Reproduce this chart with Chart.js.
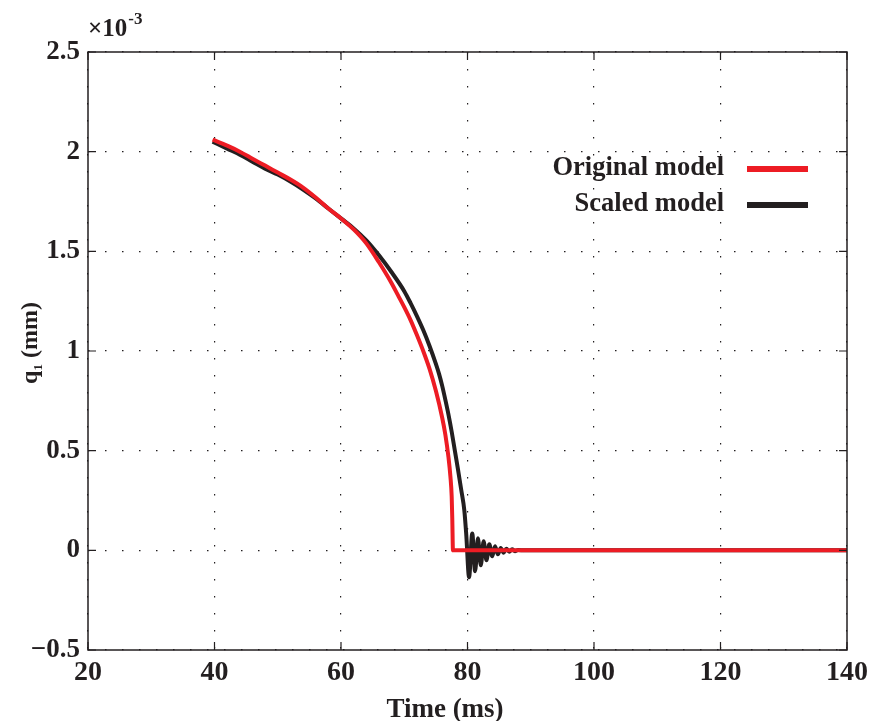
<!DOCTYPE html>
<html>
<head>
<meta charset="utf-8">
<script src="https://cdn.jsdelivr.net/npm/chart.js@4.4.1/dist/chart.umd.min.js"></script>
<style>
  html, body { margin: 0; padding: 0; background: #fff; }
  #wrap { width: 870px; height: 721px; }
</style>
</head>
<body>
<div id="wrap"><canvas id="qChart" width="870" height="721"></canvas></div>
<script>
// values in units of 1e-3 mm (the axis shows x10^-3)
const timeOriginal = [39.7, 42, 44, 46, 48, 50, 52, 54, 56, 58, 60, 62, 64, 66, 68, 69, 70, 71, 72, 73, 74, 75, 76, 76.5, 77, 77.3, 77.5, 77.6, 77.7, 140];
const qOriginal = [2.06, 2.03, 2.0, 1.965, 1.93, 1.895, 1.86, 1.82, 1.77, 1.715, 1.665, 1.61, 1.54, 1.445, 1.34, 1.28, 1.22, 1.155, 1.08, 1.0, 0.91, 0.8, 0.665, 0.58, 0.465, 0.37, 0.27, 0.15, 0.0, 0.0];

const timeScaled = [39.7, 42, 44, 46, 48, 50, 52, 54, 56, 58, 60, 62, 64, 66, 68, 70, 71, 72, 73, 74, 75, 75.5, 76, 76.5, 77, 77.5, 78, 78.5, 79, 79.5, 79.8, 80.25, 80.75, 81.2, 81.65, 82.1, 82.55, 83.0, 83.45, 83.9, 84.35, 84.8, 85.25, 85.7, 86.15, 86.6, 87.05, 87.5, 88, 89, 140];
const qScaled = [2.05, 2.015, 1.985, 1.95, 1.915, 1.885, 1.85, 1.81, 1.765, 1.715, 1.665, 1.615, 1.555, 1.48, 1.395, 1.3, 1.24, 1.175, 1.105, 1.025, 0.935, 0.885, 0.825, 0.755, 0.68, 0.595, 0.5, 0.405, 0.305, 0.2, 0.08, -0.135, 0.085, -0.105, 0.06, -0.075, 0.045, -0.05, 0.03, -0.03, 0.02, -0.02, 0.012, -0.012, 0.008, -0.007, 0.005, -0.004, 0.002, 0.0, 0.0];

const xTickLabels = ['20', '40', '60', '80', '100', '120', '140'];
const yTickLabels = ['\u22120.5', '0', '0.5', '1', '1.5', '2', '2.5'];
const seriesNames = ['Original model', 'Scaled model'];
const seriesColors = ['#ed1c24', '#231f20'];

const serif = '"Liberation Serif", "Times New Roman", serif';
const ink = '#231f20';

function toPoints(xs, ys) {
  return xs.map((t, i) => ({ x: t, y: ys[i] }));
}

// matlab style box, inward ticks, axis titles and legend
const matlabFrame = {
  id: 'matlabFrame',
  afterDraw(chart) {
    const { ctx, chartArea: a, scales } = chart;
    const x = scales.x, y = scales.y;
    ctx.save();
    ctx.strokeStyle = ink;
    ctx.lineWidth = 1.5;
    ctx.strokeRect(a.left, a.top, a.right - a.left, a.bottom - a.top);

    const tl = 8;
    ctx.lineWidth = 1.2;
    ctx.beginPath();
    x.ticks.forEach(t => {
      const px = x.getPixelForValue(t.value);
      ctx.moveTo(px, a.bottom); ctx.lineTo(px, a.bottom - tl);
      ctx.moveTo(px, a.top); ctx.lineTo(px, a.top + tl);
    });
    y.ticks.forEach(t => {
      const py = y.getPixelForValue(t.value);
      ctx.moveTo(a.left, py); ctx.lineTo(a.left + tl, py);
      ctx.moveTo(a.right, py); ctx.lineTo(a.right - tl, py);
    });
    ctx.stroke();

    ctx.fillStyle = ink;
    // x10^-3
    ctx.textBaseline = 'alphabetic';
    ctx.textAlign = 'left';
    ctx.font = 'bold 25px ' + serif;
    ctx.fillText('\u00d710', a.left, 36);
    const w10 = ctx.measureText('\u00d710').width;
    ctx.font = 'bold 17px ' + serif;
    ctx.fillText('-3', a.left + w10 + 1, 24);

    // x title
    ctx.textAlign = 'center';
    ctx.font = 'bold 27px ' + serif;
    ctx.fillText('Time (ms)', 445, 717);

    // y title with subscript
    ctx.save();
    ctx.translate(37, 343);
    ctx.rotate(-Math.PI / 2);
    ctx.textAlign = 'left';
    ctx.font = 'bold 24px ' + serif;
    const wq = ctx.measureText('q').width;
    ctx.font = 'bold 13px ' + serif;
    const w1 = ctx.measureText('1').width;
    ctx.font = 'bold 24px ' + serif;
    const wr = ctx.measureText(' (mm)').width;
    let cx = -(wq + w1 + wr) / 2;
    ctx.fillText('q', cx, 0);
    ctx.font = 'bold 13px ' + serif;
    ctx.fillText('1', cx + wq, 5);
    ctx.font = 'bold 24px ' + serif;
    ctx.fillText(' (mm)', cx + wq + w1, 0);
    ctx.restore();

    // legend
    ctx.font = 'bold 26.5px ' + serif;
    ctx.textAlign = 'right';
    ctx.textBaseline = 'middle';
    chart.data.datasets.forEach((ds, i) => {
      const ly = 168 + i * 36;
      ctx.fillStyle = ink;
      ctx.fillText(ds.label, 724, ly);
      ctx.strokeStyle = ds.borderColor;
      ctx.lineWidth = 6;
      ctx.beginPath();
      ctx.moveTo(747, ly + 1);
      ctx.lineTo(808, ly + 1);
      ctx.stroke();
    });
    ctx.restore();
  }
};

const chart = new Chart(document.getElementById('qChart').getContext('2d'), {
  type: 'line',
  data: {
    datasets: [
      {
        label: seriesNames[0],
        data: toPoints(timeOriginal, qOriginal),
        borderColor: seriesColors[0],
        borderWidth: 4,
        pointRadius: 0,
        cubicInterpolationMode: 'monotone',
        fill: false
      },
      {
        label: seriesNames[1],
        data: toPoints(timeScaled, qScaled),
        borderColor: seriesColors[1],
        borderWidth: 4,
        pointRadius: 0,
        cubicInterpolationMode: 'monotone',
        fill: false
      }
    ]
  },
  options: {
    responsive: false,
    animation: false,
    layout: { padding: { left: 0, top: 52, right: 23, bottom: 0 } },
    plugins: { legend: { display: false }, tooltip: { enabled: false } },
    scales: {
      x: {
        type: 'linear',
        min: 20,
        max: 140,
        afterFit(s) { s.height = 71; s.paddingLeft = 0; s.paddingRight = 0; },
        ticks: {
          stepSize: 20,
          padding: 6,
          color: ink,
          font: { family: serif, size: 28, weight: 'bold' },
          callback: (v, i) => xTickLabels[i]
        },
        grid: { color: ink, lineWidth: 1.2, drawTicks: false },
        border: { display: false, dash: [1.5, 15.5] }
      },
      y: {
        type: 'linear',
        min: -0.5,
        max: 2.5,
        afterFit(s) { s.width = 88; s.paddingTop = 0; s.paddingBottom = 0; },
        ticks: {
          stepSize: 0.5,
          padding: 8,
          color: ink,
          font: { family: serif, size: 27, weight: 'bold' },
          callback: (v, i) => yTickLabels[i]
        },
        grid: { color: ink, lineWidth: 1.2, drawTicks: false },
        border: { display: false, dash: [1.5, 15.5] }
      }
    }
  },
  plugins: [matlabFrame]
});
</script>
</body>
</html>
